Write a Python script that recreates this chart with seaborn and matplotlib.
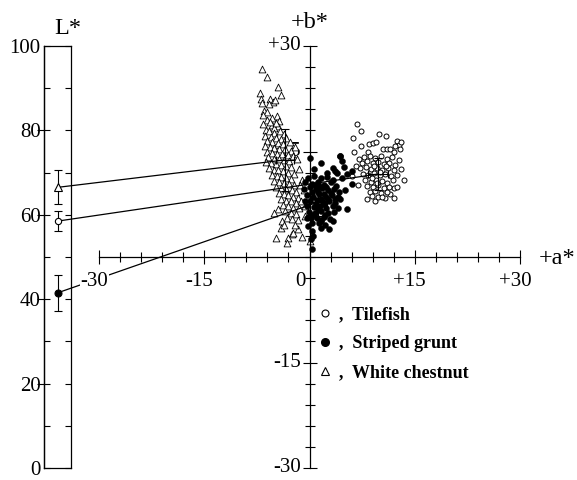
import matplotlib
matplotlib.use("Agg")
import matplotlib.pyplot as plt
import seaborn as sns
import pandas as pd
from matplotlib.patches import ConnectionPatch
from matplotlib.lines import Line2D
from matplotlib.transforms import offset_copy

# ---------------- data ----------------
species = ["Tilefish", "Striped grunt", "White chestnut"]
L_mean = [58.5, 41.5, 66.5]
L_err = [2.3, 4.3, 4.0]
ab_mean_a = [9.8, 1.2, -3.5]
ab_mean_b = [11.8, 7.8, 13.8]
ab_err_a = [1.4, 1.3, 1.3]
ab_err_b = [2.3, 2.0, 4.4]

L_ticks = [0, 20, 40, 60, 80, 100]
a_tick_vals = [-30, -15, 15, 30]
a_tick_text = ["-30", "-15", "+15", "+30"]
b_tick_vals = [30, 15, -15, -30]
b_tick_text = ["+30", "+15", "-15", "-30"]

tilefish_ab = [
    (6.8, 18.9), (7.3, 17.9), (6.2, 16.9), (9.9, 17.5), (10.9, 17.2), (12.5, 16.5), (12.8, 15.9), (12.9, 15.3), (12.2, 15.8), (7.4, 15.8),
    (8.5, 16.0), (9.0, 16.2), (9.5, 16.3), (6.4, 15.0), (8.4, 15.0), (10.5, 15.4), (11.0, 15.3), (11.5, 15.4), (12.1, 15.0), (13.4, 11.0),
    (12.0, 9.8), (12.4, 9.9), (11.5, 8.9), (8.2, 8.3), (9.4, 8.0), (10.7, 8.4), (6.0, 11.5), (12.0, 8.4), (13.0, 16.3),
    (7.8, 14.2), (8.6, 14.4), (9.4, 14.1), (10.2, 14.3), (11.0, 14.0), (11.8, 14.2),
    (7.5, 13.4), (8.2, 13.6), (9.0, 13.3), (9.8, 13.5), (10.6, 13.2), (11.4, 13.4), (12.2, 13.1),
    (7.2, 12.6), (8.0, 12.8), (8.8, 12.5), (9.6, 12.7), (10.4, 12.4), (11.2, 12.6), (12.0, 12.3),
    (7.6, 11.8), (8.4, 11.6), (9.2, 11.9), (10.0, 11.6), (10.8, 11.8), (11.6, 11.5), (12.4, 11.7),
    (7.9, 10.9), (8.7, 10.7), (9.5, 11.0), (10.3, 10.8), (11.1, 10.5), (11.9, 10.9),
    (8.2, 10.1), (9.0, 9.9), (9.8, 10.2), (10.6, 9.8), (11.4, 10.0),
    (8.6, 9.2), (9.4, 9.4), (10.2, 9.1), (11.0, 9.3), (9.8, 8.6), (8.9, 8.7), (10.4, 8.5),
    (9.2, 13.0), (10.1, 12.1), (8.9, 11.3), (10.9, 12.9), (9.6, 10.5), (7.0, 14.0), (6.6, 13.0), (13.0, 12.5), (12.8, 13.8), (6.9, 10.2),
]

grunt_ab = [
    (4.4, 14.4), (4.6, 13.7), (1.6, 13.3), (3.4, 12.7), (4.9, 12.8), (3.9, 12.0), (5.4, 11.8), (6.1, 10.4), (0.0, 14.1), (3.6, 12.2),
    (5.4, 6.8), (4.4, 8.2), (3.4, 5.1), (1.6, 5.3), (0.4, 3.7), (0.5, 3.0), (0.2, 2.5), (0.3, 1.2), (2.8, 4.0), (4.6, 11.3),
    (5.0, 9.5), (2.5, 12.0), (0.7, 12.5), (6.1, 12.2), (4.4, 14.4),
    (-0.2, 11.3), (0.7, 11.5), (1.6, 11.2), (2.5, 11.4), (3.3, 11.0),
    (-0.6, 10.6), (0.3, 10.4), (1.2, 10.7), (2.1, 10.3), (3.0, 10.6), (3.8, 10.1),
    (-0.8, 9.6), (0.0, 9.9), (0.9, 9.6), (1.8, 9.8), (2.7, 9.5), (3.5, 9.7), (4.2, 9.3),
    (-0.4, 8.8), (0.5, 8.6), (1.4, 8.9), (2.3, 8.6), (3.2, 8.8), (4.0, 8.5),
    (-0.7, 8.0), (0.1, 7.9), (1.0, 8.1), (1.9, 7.8), (2.8, 8.0), (3.6, 7.7),
    (-0.3, 7.2), (0.6, 7.1), (1.5, 7.3), (2.4, 7.0), (3.3, 7.2), (4.1, 6.9),
    (-0.1, 6.4), (0.8, 6.3), (1.7, 6.5), (2.6, 6.2), (3.5, 6.4),
    (0.2, 5.6), (1.1, 5.5), (2.0, 5.7), (2.9, 5.4), (-0.4, 5.5),
    (0.4, 4.8), (1.3, 4.9), (2.2, 4.6), (-0.2, 4.4), (1.7, 4.1),
    (1.2, 9.2), (2.0, 9.0), (0.4, 9.3), (2.6, 8.3), (1.7, 8.3), (0.9, 7.5), (2.0, 7.5), (1.2, 6.8),
    (2.2, 6.0), (0.5, 6.0), (3.0, 9.1), (1.4, 10.1), (2.4, 10.0), (0.8, 10.2), (3.6, 8.2), (1.6, 5.1),
]

chestnut_ab = [
    (-6.8, 26.8), (-6.1, 25.6), (-4.5, 24.1), (-4.0, 23.0), (-7.0, 23.3), (-6.9, 22.5), (-6.8, 21.9), (-5.6, 22.4), (-5.2, 22.0), (-4.9, 22.3),
    (-5.8, 21.8), (-6.5, 20.7), (-6.1, 20.6), (-6.6, 20.2), (-4.6, 20.1), (-4.3, 19.3), (-4.5, 18.6), (-5.4, 18.8), (-5.1, 18.4), (-6.2, 18.1),
    (-6.0, 19.5), (-5.3, 19.8), (-4.8, 19.0), (-6.6, 18.9), (-5.7, 19.2),
    (-5.8, 17.9), (-5.0, 17.7), (-4.2, 17.9), (-3.6, 17.5), (-6.3, 17.2), (-5.5, 17.1), (-4.8, 16.9), (-4.0, 16.8), (-3.3, 16.9), (-2.8, 16.4),
    (-6.0, 16.5), (-5.3, 16.3), (-4.5, 16.2), (-3.8, 16.0), (-6.4, 15.8), (-5.7, 15.6), (-5.0, 15.5), (-4.3, 15.3), (-3.5, 15.4), (-2.7, 15.1),
    (-6.1, 15.0), (-5.4, 14.8), (-4.7, 14.6), (-3.9, 14.7), (-3.1, 14.5), (-2.4, 14.3), (-5.9, 14.2), (-5.1, 14.0), (-4.4, 13.9), (-3.7, 13.8),
    (-2.9, 13.6), (-6.2, 13.5), (-5.5, 13.3), (-4.8, 13.2), (-4.0, 13.1), (-3.3, 13.0), (-2.6, 12.8), (-5.8, 12.6), (-5.1, 12.4), (-4.5, 12.3),
    (-3.8, 12.2), (-3.0, 12.0), (-2.2, 11.8), (-5.4, 11.7), (-4.7, 11.5), (-4.1, 11.4), (-3.4, 11.3), (-2.7, 11.1), (-5.0, 10.8), (-4.3, 10.7),
    (-3.6, 10.5), (-2.9, 10.4), (-2.2, 10.2), (-4.8, 10.0), (-4.0, 9.8), (-3.3, 9.7), (-2.5, 9.5), (-1.9, 9.3), (-4.4, 9.1), (-3.7, 8.9),
    (-3.0, 8.8), (-2.3, 8.6), (-1.6, 8.4), (-4.1, 8.2), (-3.4, 8.0), (-2.6, 7.9), (-1.9, 7.7), (-3.8, 7.4), (-3.1, 7.2), (-2.3, 7.0),
    (-1.5, 6.9), (-4.5, 6.8), (-3.5, 6.5), (-2.7, 6.3), (-1.9, 6.1), (-5.1, 6.3), (-3.9, 5.1), (-3.2, 5.6), (-2.5, 5.4), (-1.6, 5.3),
    (-0.6, 5.8), (-4.0, 4.1), (-1.6, 4.0), (-2.5, 3.3), (-3.0, 2.7), (-4.8, 2.7), (-3.2, 2.0), (0.1, 2.3), (-2.4, 3.4), (-1.0, 2.9),
    (-3.6, 4.5), (-2.0, 4.6), (-1.5, 12.5), (-1.0, 11.0), (-0.8, 9.5), (-1.2, 8.0), (-0.6, 7.2), (-1.8, 13.9), (-2.1, 15.6), (-1.4, 10.3),
]

# ---------------- style ----------------
sns.set_style("white")
plt.rcParams["font.family"] = ["Liberation Serif", "DejaVu Serif"]
plt.rcParams["axes.edgecolor"] = "black"
plt.rcParams["xtick.color"] = "black"
plt.rcParams["ytick.color"] = "black"
plt.rcParams["text.color"] = "black"

W, H = 577, 480
fig = plt.figure(figsize=(W / 100, H / 100), dpi=100)
fig.patch.set_facecolor("white")


def px_rect(l, t, r, b):
    return [l / W, 1 - b / H, (r - l) / W, (b - t) / H]


ax_ab = fig.add_axes(px_rect(99, 46, 520, 468), zorder=1)
ax_L = fig.add_axes(px_rect(44, 46, 71, 468), zorder=2)
for ax in (ax_ab, ax_L):
    ax.set_facecolor("none")

LW = 0.9
TS = 15

# ---------------- L* bar ----------------
ax_L.set_xlim(0, 1)
ax_L.set_ylim(0, 100)
ax_L.set_xticks([])
ax_L.set_yticks(L_ticks)
ax_L.set_yticks([10, 30, 50, 70, 90], minor=True)
ax_L.set_yticklabels([str(v) for v in L_ticks])
ax_L.tick_params(axis="y", which="both", direction="in", left=True, right=True,
                 length=4.5, width=0.8, labelsize=TS, pad=2.5)
for sp in ax_L.spines.values():
    sp.set_visible(True)
    sp.set_linewidth(LW)
    sp.set_color("black")
sec = ax_L.secondary_yaxis("left")
sec.set_yticks([20, 40, 60, 80])
sec.tick_params(direction="out", length=5, width=0.8, labelleft=False)
sec.spines["left"].set_linewidth(LW)

L_markers = [dict(marker="o", mfc="white", ms=4.5),
             dict(marker="o", mfc="black", ms=5),
             dict(marker="^", mfc="white", ms=5.5)]
for Lm, Le, mk in zip(L_mean, L_err, L_markers):
    ax_L.errorbar([0.5], [Lm], yerr=[Le], fmt="none", ecolor="black",
                  elinewidth=0.8, capsize=3, capthick=0.8, zorder=3)
    ax_L.plot([0.5], [Lm], ls="none", mec="black", mew=0.8, zorder=4, **mk)
ax_L.text(0.5, 100, "L*", fontsize=17.5, ha="left", va="baseline",
          transform=offset_copy(ax_L.transData, fig=fig, x=-3, y=12, units="dots"))

# ---------------- a*b* plane ----------------
ax_ab.set_xlim(-30, 30)
ax_ab.set_ylim(-30, 30)
for s in ("top", "right"):
    ax_ab.spines[s].set_visible(False)
for s in ("left", "bottom"):
    ax_ab.spines[s].set_position(("data", 0))
    ax_ab.spines[s].set_bounds(-30, 30)
    ax_ab.spines[s].set_linewidth(LW)
    ax_ab.spines[s].set_color("black")
    ax_ab.spines[s].set_zorder(2.5)

minor = [v for v in range(-30, 31, 3) if v not in (-30, -15, 15, 30)]
ax_ab.set_xticks(a_tick_vals)
ax_ab.set_yticks(b_tick_vals)
ax_ab.set_xticks(minor, minor=True)
ax_ab.set_yticks(minor, minor=True)
ax_ab.tick_params(which="major", direction="inout", length=10, width=0.8,
                  labelbottom=False, labelleft=False, bottom=True, left=True)
ax_ab.tick_params(which="minor", direction="inout", length=6.5, width=0.8,
                  bottom=True, left=True)

df = pd.concat([
    pd.DataFrame(tilefish_ab, columns=["a", "b"]).assign(sp=species[0]),
    pd.DataFrame(grunt_ab, columns=["a", "b"]).assign(sp=species[1]),
    pd.DataFrame(chestnut_ab, columns=["a", "b"]).assign(sp=species[2]),
])

sns.scatterplot(data=df[df.sp == species[2]], x="a", y="b", marker="^", s=24,
                facecolor="white", edgecolor="black", linewidth=0.6, ax=ax_ab,
                legend=False, zorder=2, clip_on=False)
sns.scatterplot(data=df[df.sp == species[0]], x="a", y="b", marker="o", s=13,
                facecolor="white", edgecolor="black", linewidth=0.7, ax=ax_ab,
                legend=False, zorder=2, clip_on=False)
sns.scatterplot(data=df[df.sp == species[1]], x="a", y="b", marker="o", s=19,
                color="black", edgecolor="black", linewidth=0.3, ax=ax_ab,
                legend=False, zorder=2, clip_on=False)
ax_ab.set_xlabel("")
ax_ab.set_ylabel("")

ax_ab.errorbar(ab_mean_a, ab_mean_b, xerr=ab_err_a, yerr=ab_err_b, fmt="none",
               ecolor="black", elinewidth=0.8, capsize=3, capthick=0.8, zorder=3)

# connecting lines from L* to a*b* means
for Lm, am, bm in zip(L_mean, ab_mean_a, ab_mean_b):
    con = ConnectionPatch(xyA=(0.5, Lm), coordsA=ax_L.transData,
                          xyB=(am, bm), coordsB=ax_ab.transData,
                          color="black", lw=0.9, zorder=3)
    con.set_clip_on(False)
    ax_ab.add_artist(con)

# tick labels
for v, s in zip(a_tick_vals, a_tick_text):
    kw = dict(facecolor="white", edgecolor="none", pad=0.5) if v == -30 else None
    ax_ab.text(v, 0, s, fontsize=TS, ha="center", va="center", zorder=5 if v == -30 else 1,
               bbox=kw,
               transform=offset_copy(ax_ab.transData, fig=fig, x=-5, y=-25, units="dots"))
ax_ab.text(0, 0, "0", fontsize=TS, ha="right", va="center", zorder=1,
           transform=offset_copy(ax_ab.transData, fig=fig, x=-4, y=-25, units="dots"))
for v, s in zip(b_tick_vals, b_tick_text):
    ax_ab.text(0, v, s, fontsize=TS, ha="right", va="center", zorder=1,
               transform=offset_copy(ax_ab.transData, fig=fig, x=-9, y=0, units="dots"))

ax_ab.text(30, 0, "+a*", fontsize=17.5, ha="left", va="center", zorder=1,
           transform=offset_copy(ax_ab.transData, fig=fig, x=19, y=-1, units="dots"))
ax_ab.text(0, 30, "+b*", fontsize=17.5, ha="center", va="baseline", zorder=1,
           transform=offset_copy(ax_ab.transData, fig=fig, x=0, y=18, units="dots"))

# legend
handles = [
    Line2D([], [], ls="none", marker="o", mfc="white", mec="black", ms=5, mew=0.8),
    Line2D([], [], ls="none", marker="o", mfc="black", mec="black", ms=5.5),
    Line2D([], [], ls="none", marker="^", mfc="white", mec="black", ms=6, mew=0.8),
]
leg = ax_ab.legend(handles, [",  " + s for s in species], frameon=False,
                   loc="upper left", bbox_to_anchor=(316 / W, 1 - 306 / H),
                   bbox_transform=fig.transFigure, borderpad=0, borderaxespad=0,
                   handlelength=1.0, handletextpad=0.3, labelspacing=0.68,
                   prop=dict(family="Liberation Serif", weight="bold", size=13))

fig.savefig("out.png", dpi=100, facecolor="white")
